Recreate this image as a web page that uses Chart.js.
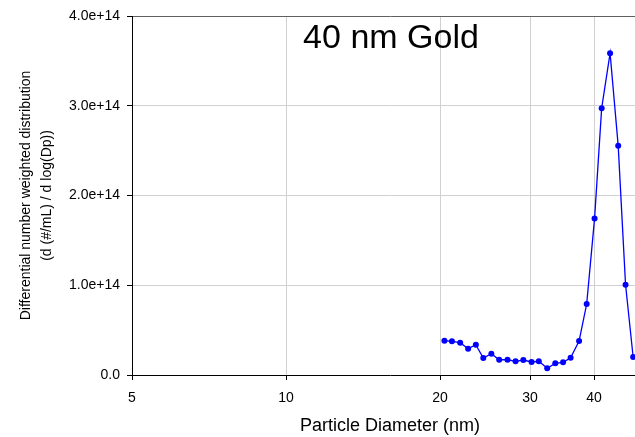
<!DOCTYPE html>
<html>
<head>
<meta charset="utf-8">
<script src="https://cdn.jsdelivr.net/npm/chart.js@4.4.1/dist/chart.umd.min.js"></script>
<style>
  html, body { margin: 0; padding: 0; background: #ffffff; overflow: hidden; }
  #wrap { width: 652px; height: 437px; }
</style>
</head>
<body>
<div id="wrap"><canvas id="sizeChart" width="652" height="437"></canvas></div>
<script>
// Particle size distribution
const diameters = [20.4, 21.1, 21.9, 22.7, 23.5, 24.3, 25.2, 26.1, 27.1, 28.1, 29.1, 30.2, 31.2,
                   32.4, 33.6, 34.8, 36.0, 37.4, 38.7, 40.1, 41.4, 43.0, 44.6, 46.1, 47.7];
const counts = [3.82e13, 3.75e13, 3.60e13, 2.93e13, 3.37e13, 1.89e13, 2.37e13, 1.70e13, 1.70e13,
                1.53e13, 1.67e13, 1.45e13, 1.53e13, 0.75e13, 1.30e13, 1.41e13, 1.93e13, 3.79e13,
                7.91e13, 1.745e14, 2.973e14, 3.586e14, 2.553e14, 1.006e14, 2.00e13];
const xTicks = [5, 10, 20, 30, 40];
const chartLabel = '40 nm Gold';

const FONT = "'Liberation Sans', Arial, sans-serif";
Chart.defaults.font.family = FONT;
Chart.defaults.color = '#000000';

const points = diameters.map((d, i) => ({ x: d, y: counts[i] }));

// text box inside the plot area
const labelPlugin = {
    id: 'plotLabel',
    afterDraw(chart) {
        const { ctx, chartArea } = chart;
        ctx.save();
        ctx.font = `34px ${FONT}`;
        ctx.fillStyle = '#000000';
        ctx.textAlign = 'center';
        ctx.textBaseline = 'alphabetic';
        ctx.fillText(chartLabel, (chartArea.left + chartArea.right) / 2 + 1, chartArea.top + 32);
        ctx.restore();
    }
};

new Chart(document.getElementById('sizeChart'), {
    type: 'line',
    data: {
        datasets: [{
            data: points,
            borderColor: '#0000FF',
            backgroundColor: '#0000FF',
            borderWidth: 1.3,
            pointRadius: 3,
            pointBorderWidth: 0,
            tension: 0,
            fill: false
        }]
    },
    options: {
        responsive: false,
        animation: false,
        layout: { padding: { top: 16, right: 0, bottom: 0, left: 0 } },
        plugins: { legend: { display: false }, tooltip: { enabled: false } },
        scales: {
            x: {
                type: 'logarithmic',
                min: 5,
                max: 51.0,
                afterBuildTicks: (scale) => { scale.ticks = xTicks.map(v => ({ value: v })); },
                afterFit: (scale) => { scale.height = 62; },
                ticks: {
                    autoSkip: false,
                    maxRotation: 0,
                    padding: 10,
                    font: { size: 14 },
                    callback: (v) => String(v)
                },
                grid: { color: '#d0d0d0', tickLength: 5, tickColor: '#000000', lineWidth: 1 },
                border: { color: '#000000', width: 1 },
                title: {
                    display: true,
                    text: 'Particle Diameter (nm)',
                    font: { size: 18 },
                    padding: { top: 0, bottom: 0 }
                }
            },
            y: {
                min: 0,
                max: 4e14,
                afterFit: (scale) => { scale.width = 132; },
                ticks: {
                    stepSize: 1e14,
                    padding: 7,
                    font: { size: 14 },
                    callback: (v) => v === 0 ? '0.0' : v.toExponential(1)
                },
                grid: {
                    color: (c) => c.tick && c.tick.value === 4e14 ? '#606060' : '#d0d0d0',
                    tickLength: 5,
                    tickColor: '#000000'
                },
                border: { color: '#000000', width: 1 },
                title: {
                    display: true,
                    text: ['Differential number weighted distribution', '(d (#/mL) / d log(Dp))'],
                    font: { size: 14, lineHeight: 1.5 },
                    padding: { top: 16, bottom: 0 }
                }
            }
        }
    },
    plugins: [labelPlugin]
});
</script>
</body>
</html>
